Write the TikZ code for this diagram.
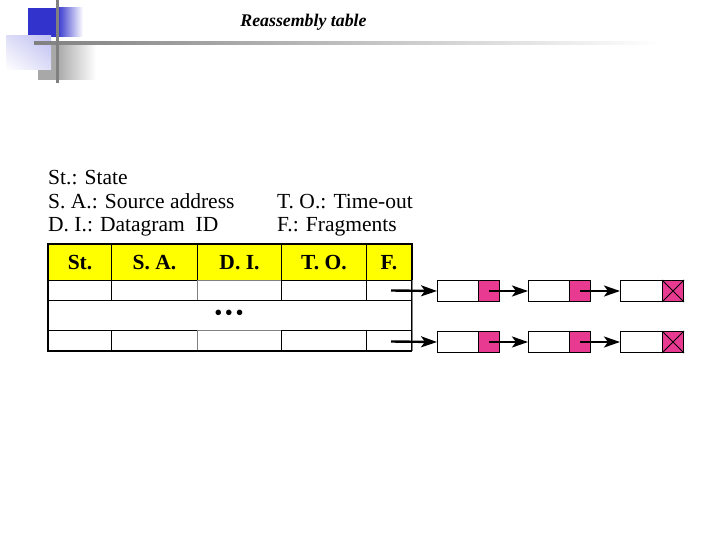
\documentclass[tikz,border=0pt]{standalone}
\usepackage{fontspec}
\setmainfont{Liberation Serif}
\usetikzlibrary{arrows.meta,shadings}
\definecolor{decoblue}{RGB}{50,50,205}
\definecolor{decolav}{RGB}{190,190,242}
\definecolor{decolavmid}{RGB}{222,222,248}
\definecolor{decogray}{RGB}{168,168,168}
\definecolor{linegray}{RGB}{128,128,128}
\definecolor{fragpink}{RGB}{232,58,145}
\definecolor{hdryellow}{RGB}{255,255,0}
\tikzset{
  hdr/.style={draw=black, fill=hdryellow, line width=1pt, minimum height=36, anchor=north west, inner sep=0pt, font=\fontsize{21.5}{21.5}\selectfont\bfseries},
  cell/.style={draw=black, line width=1pt, minimum height=20, anchor=north west, inner sep=0pt},
  legend/.style={anchor=base west, inner sep=0pt, font=\fontsize{21.5}{23}\selectfont},
  fw/.style={draw=black, line width=1pt, fill=white, minimum height=21, anchor=north west, inner sep=0pt},
  fp/.style={draw=black, line width=1pt, fill=fragpink, minimum height=21, minimum width=21, anchor=north west, inner sep=0pt},
  arr/.style={-{Stealth[length=16pt,width=11pt,inset=4pt]}, line width=2.4pt, draw=black},
}
\begin{document}
\begin{tikzpicture}[x=1pt,y=-1pt]
\useasboundingbox (0,0) rectangle (720,540);
% decoration
\fill[decoblue] (28,8) rectangle (57,37);
\shade[left color=decoblue, right color=white] (57,8) rectangle (83,37);
\fill[decogray] (38,43) rectangle (57,80);
\shade[left color=decogray, right color=white] (57,43) rectangle (96,80);
\shade[upper right=decolav, lower left=white, upper left=decolavmid, lower right=decolavmid] (6,36) rectangle (51,70);
\shade[left color=linegray, right color=white] (34,41.5) rectangle (660,44.5);
\fill[linegray] (55.5,0) rectangle (58.5,83);
% title
\node[font=\fontsize{17.8}{18}\selectfont\bfseries\itshape, anchor=base] (title) at (303.5,27) {Reassembly table};
% legend
\node[legend] (l1) at (48,185) {St.: State};
\node[legend] (l2) at (48,208.5) {S. A.: Source address};
\node[legend] (l3) at (48,231.5) {D. I.: Datagram\ \ ID};
\node[legend] (l4) at (277,208.5) {T. O.: Time-out};
\node[legend] (l5) at (277,231.5) {F.: Fragments};
% header
\node[hdr, minimum width=63] (hSt) at (48,244) {St.};
\node[hdr, minimum width=86] (hSA) at (111,244) {S. A.};
\node[hdr, minimum width=84] (hDI) at (197,244) {D. I.};
\node[hdr, minimum width=85] (hTO) at (281,244) {T. O.};
\node[hdr, minimum width=45] (hF) at (366,244) {F.};
% row 1
\node[cell, minimum width=63] (aSt) at (48,280) {};
\node[cell, minimum width=86] (aSA) at (111,280) {};
\node[cell, minimum width=84, draw=gray] (aDI) at (197,280) {};
\node[cell, minimum width=85] (aTO) at (281,280) {};
\node[cell, minimum width=45] (aF) at (366,280) {};
% dots row
\node[cell, minimum width=363, minimum height=30] (dots) at (48,300) {};
\node (dottext) at (229,315) {\fontsize{23}{23}\selectfont \textbullet\kern2.5pt\textbullet\kern2.5pt\textbullet};
% row 3
\node[cell, minimum width=63] (cSt) at (48,330) {};
\node[cell, minimum width=86] (cSA) at (111,330) {};
\node[cell, minimum width=84, draw=gray] (cDI) at (197,330) {};
\node[cell, minimum width=85] (cTO) at (281,330) {};
\node[cell, minimum width=45] (cF) at (366,330) {};
% outer border
\draw[line width=1.5pt] (hSt.north east) -- (hSt.north west) -- (cSt.south west) -- (cF.south east);
\draw[line width=1.5pt] (hSt.north west) -- (hF.north east) -- (hF.south east);
\draw[line width=1pt, gray] (aF.north east) -- (cF.south east);
% fragments row 1
\node[fw, minimum width=41] (f11) at (437,280) {};
\node[fp] (p11) at (478,280) {};
\node[fw, minimum width=41] (f12) at (528,280) {};
\node[fp] (p12) at (569,280) {};
\node[fw, minimum width=42] (f13) at (620,280) {};
\node[fp] (p13) at (662,280) {};
% fragments row 3
\node[fw, minimum width=41] (f31) at (437,331) {};
\node[fp] (p31) at (478,331) {};
\node[fw, minimum width=41] (f32) at (528,331) {};
\node[fp] (p32) at (569,331) {};
\node[fw, minimum width=42] (f33) at (620,331) {};
\node[fp] (p33) at (662,331) {};
% crosses
\draw[line width=1pt] (p13.north west) -- (p13.south east) (p13.north east) -- (p13.south west);
\draw[line width=1pt] (p33.north west) -- (p33.south east) (p33.north east) -- (p33.south west);
% arrows
\coordinate (s1) at (391,290.5);
\coordinate (s3) at (391,341.5);
\draw[arr] (s1) -- (f11.west);
\draw[arr] (p11.center) -- (f12.west);
\draw[arr] (p12.center) -- (f13.west);
\draw[arr] (s3) -- (f31.west);
\draw[arr] (p31.center) -- (f32.west);
\draw[arr] (p32.center) -- (f33.west);
\end{tikzpicture}
\end{document}
